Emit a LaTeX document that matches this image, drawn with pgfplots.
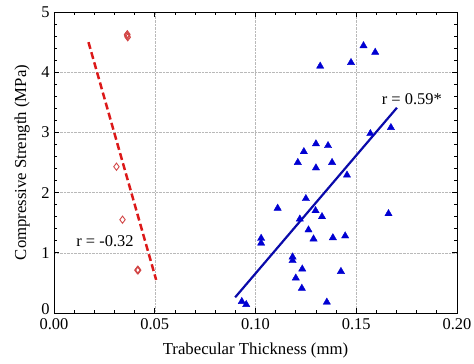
\documentclass[border=0pt]{standalone}
\usepackage{fontspec}
\setmainfont{Liberation Serif}
\usepackage{pgfplots}
\pgfplotsset{compat=1.18}
\usetikzlibrary{calc}
\definecolor{triblue}{RGB}{0,0,210}
\definecolor{lineblue}{RGB}{10,10,170}
\definecolor{dashred}{RGB}{220,25,25}
\definecolor{diared}{RGB}{210,70,70}
\begin{document}
\begin{tikzpicture}
\begin{axis}[
  scale only axis, width=403bp, height=301bp,
  xmin=0, xmax=0.2, ymin=0, ymax=5,
  xtick={0,0.05,0.1,0.15,0.2}, ytick={1,2,3,4,5},
  extra y ticks={0},
  extra y tick style={grid=none, yticklabel style={yshift=3.5bp}},
  minor x tick num=4, minor y tick num=4,
  scaled x ticks=false,
  xticklabel style={yshift=-2.5bp, /pgf/number format/.cd,fixed,fixed zerofill,precision=2},
  yticklabel style={xshift=-1bp},
  /pgf/number format/assume math mode=true,
  grid=major, major grid style={densely dotted, gray!55, line width=0.5pt},
  major tick length=5bp, minor tick length=3bp,
  tick style={black, line width=0.8pt},
  axis line style={line width=1pt},
  tick label style={font=\fontsize{16.5}{16.5}\selectfont},
  label style={font=\fontsize{16.8}{16.8}\selectfont},
  xlabel={Trabecular Thickness (mm)},
  ylabel={Compressive Strength (MPa)},
  xlabel style={at={(axis description cs:0.5,-0.126)}, anchor=center},
  ylabel style={at={(axis description cs:-0.079,0.5)}, anchor=center},
  clip=false,
]
% red dashed regression line
\addplot[dashred, line width=2.5pt, dash pattern=on 7bp off 3.5bp] coordinates {(0.0171,4.50) (0.0507,0.55)};
% red diamonds
\addplot[only marks, mark=diamond, mark size=3.6bp, diared, mark options={line width=0.9pt}] coordinates {
(0.0362,4.62) (0.0366,4.58) (0.0364,4.60) (0.0364,4.63)
(0.0310,2.43)
(0.0340,1.55)
(0.0414,0.71) (0.0418,0.71) (0.0416,0.72)
};
% blue regression line
\addplot[lineblue, line width=2.2pt] coordinates {(0.0899,0.26) (0.1702,3.41)};
% blue triangles
\addplot[only marks, mark=triangle*, mark size=4.2bp, triblue, mark options={draw=triblue, fill=triblue}] coordinates {
(0.1536,4.44) (0.1594,4.33) (0.1321,4.10) (0.1474,4.16)
(0.1672,3.08) (0.1570,2.98) (0.1300,2.81) (0.1360,2.78)
(0.1240,2.68) (0.1210,2.50) (0.1380,2.50) (0.1300,2.41)
(0.1454,2.29) (0.1250,1.90) (0.1110,1.74) (0.1298,1.70)
(0.1330,1.60) (0.1220,1.56) (0.1660,1.65) (0.1263,1.38)
(0.1384,1.25) (0.1445,1.28) (0.1288,1.23) (0.1028,1.24)
(0.1028,1.16) (0.1184,0.93) (0.1184,0.87) (0.1232,0.73)
(0.1424,0.69) (0.1200,0.58) (0.1230,0.41) (0.0932,0.19)
(0.0954,0.14) (0.1354,0.18)
};
\node[font=\fontsize{16.5}{16.5}\selectfont] at (axis cs:0.0253,1.19) {r = -0.32};
\node[font=\fontsize{16.5}{16.5}\selectfont] at (axis cs:0.1776,3.56) {r = 0.59*};
\end{axis}
\pgfresetboundingbox
\path[use as bounding box] ($(current axis.south west)+(-54bp,-51bp)$) rectangle ($(current axis.north east)+(17bp,12bp)$);
\end{tikzpicture}
\end{document}
